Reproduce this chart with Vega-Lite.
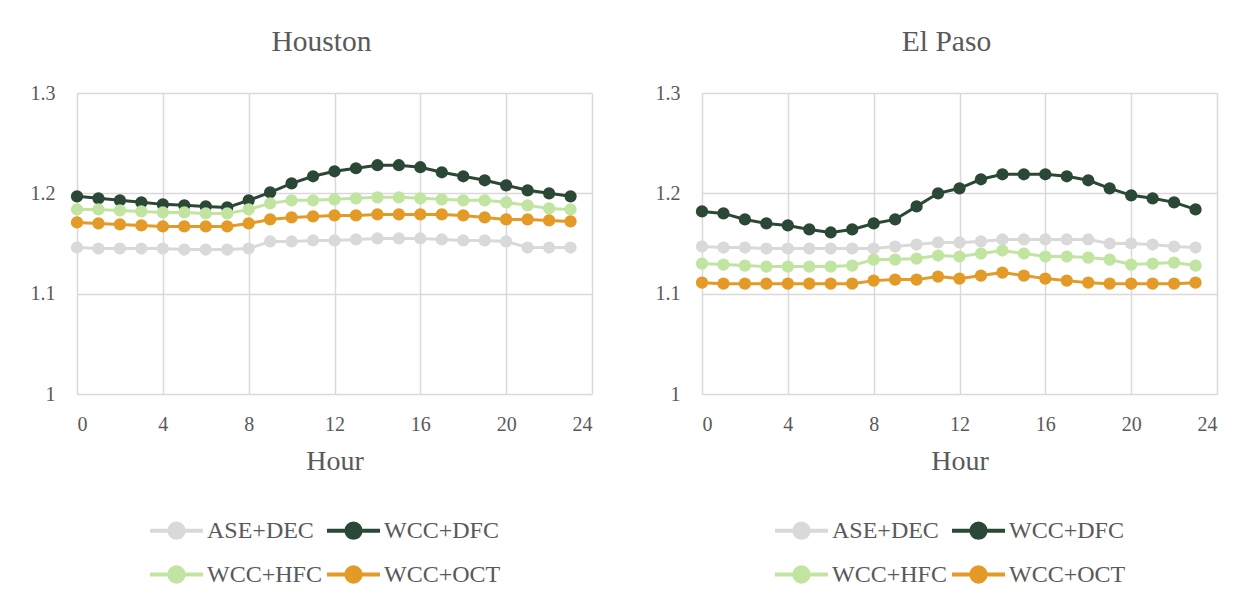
{
  "$schema": "https://vega.github.io/schema/vega-lite/v6.json",
  "background": "white",
  "padding": {"left": 30, "top": 26, "right": 5, "bottom": 0},
  "datasets": {
    "hourly": [
      {"city": "Houston", "series": "ASE+DEC", "hour": 0, "value": 1.146},
      {"city": "Houston", "series": "ASE+DEC", "hour": 1, "value": 1.145},
      {"city": "Houston", "series": "ASE+DEC", "hour": 2, "value": 1.145},
      {"city": "Houston", "series": "ASE+DEC", "hour": 3, "value": 1.145},
      {"city": "Houston", "series": "ASE+DEC", "hour": 4, "value": 1.145},
      {"city": "Houston", "series": "ASE+DEC", "hour": 5, "value": 1.144},
      {"city": "Houston", "series": "ASE+DEC", "hour": 6, "value": 1.144},
      {"city": "Houston", "series": "ASE+DEC", "hour": 7, "value": 1.144},
      {"city": "Houston", "series": "ASE+DEC", "hour": 8, "value": 1.145},
      {"city": "Houston", "series": "ASE+DEC", "hour": 9, "value": 1.152},
      {"city": "Houston", "series": "ASE+DEC", "hour": 10, "value": 1.152},
      {"city": "Houston", "series": "ASE+DEC", "hour": 11, "value": 1.153},
      {"city": "Houston", "series": "ASE+DEC", "hour": 12, "value": 1.153},
      {"city": "Houston", "series": "ASE+DEC", "hour": 13, "value": 1.154},
      {"city": "Houston", "series": "ASE+DEC", "hour": 14, "value": 1.155},
      {"city": "Houston", "series": "ASE+DEC", "hour": 15, "value": 1.155},
      {"city": "Houston", "series": "ASE+DEC", "hour": 16, "value": 1.155},
      {"city": "Houston", "series": "ASE+DEC", "hour": 17, "value": 1.154},
      {"city": "Houston", "series": "ASE+DEC", "hour": 18, "value": 1.153},
      {"city": "Houston", "series": "ASE+DEC", "hour": 19, "value": 1.153},
      {"city": "Houston", "series": "ASE+DEC", "hour": 20, "value": 1.152},
      {"city": "Houston", "series": "ASE+DEC", "hour": 21, "value": 1.146},
      {"city": "Houston", "series": "ASE+DEC", "hour": 22, "value": 1.146},
      {"city": "Houston", "series": "ASE+DEC", "hour": 23, "value": 1.146},

      {"city": "Houston", "series": "WCC+DFC", "hour": 0, "value": 1.197},
      {"city": "Houston", "series": "WCC+DFC", "hour": 1, "value": 1.195},
      {"city": "Houston", "series": "WCC+DFC", "hour": 2, "value": 1.193},
      {"city": "Houston", "series": "WCC+DFC", "hour": 3, "value": 1.191},
      {"city": "Houston", "series": "WCC+DFC", "hour": 4, "value": 1.189},
      {"city": "Houston", "series": "WCC+DFC", "hour": 5, "value": 1.188},
      {"city": "Houston", "series": "WCC+DFC", "hour": 6, "value": 1.187},
      {"city": "Houston", "series": "WCC+DFC", "hour": 7, "value": 1.186},
      {"city": "Houston", "series": "WCC+DFC", "hour": 8, "value": 1.193},
      {"city": "Houston", "series": "WCC+DFC", "hour": 9, "value": 1.201},
      {"city": "Houston", "series": "WCC+DFC", "hour": 10, "value": 1.210},
      {"city": "Houston", "series": "WCC+DFC", "hour": 11, "value": 1.217},
      {"city": "Houston", "series": "WCC+DFC", "hour": 12, "value": 1.222},
      {"city": "Houston", "series": "WCC+DFC", "hour": 13, "value": 1.225},
      {"city": "Houston", "series": "WCC+DFC", "hour": 14, "value": 1.228},
      {"city": "Houston", "series": "WCC+DFC", "hour": 15, "value": 1.228},
      {"city": "Houston", "series": "WCC+DFC", "hour": 16, "value": 1.226},
      {"city": "Houston", "series": "WCC+DFC", "hour": 17, "value": 1.221},
      {"city": "Houston", "series": "WCC+DFC", "hour": 18, "value": 1.217},
      {"city": "Houston", "series": "WCC+DFC", "hour": 19, "value": 1.213},
      {"city": "Houston", "series": "WCC+DFC", "hour": 20, "value": 1.208},
      {"city": "Houston", "series": "WCC+DFC", "hour": 21, "value": 1.203},
      {"city": "Houston", "series": "WCC+DFC", "hour": 22, "value": 1.200},
      {"city": "Houston", "series": "WCC+DFC", "hour": 23, "value": 1.197},

      {"city": "Houston", "series": "WCC+HFC", "hour": 0, "value": 1.184},
      {"city": "Houston", "series": "WCC+HFC", "hour": 1, "value": 1.184},
      {"city": "Houston", "series": "WCC+HFC", "hour": 2, "value": 1.183},
      {"city": "Houston", "series": "WCC+HFC", "hour": 3, "value": 1.182},
      {"city": "Houston", "series": "WCC+HFC", "hour": 4, "value": 1.181},
      {"city": "Houston", "series": "WCC+HFC", "hour": 5, "value": 1.181},
      {"city": "Houston", "series": "WCC+HFC", "hour": 6, "value": 1.180},
      {"city": "Houston", "series": "WCC+HFC", "hour": 7, "value": 1.180},
      {"city": "Houston", "series": "WCC+HFC", "hour": 8, "value": 1.184},
      {"city": "Houston", "series": "WCC+HFC", "hour": 9, "value": 1.190},
      {"city": "Houston", "series": "WCC+HFC", "hour": 10, "value": 1.193},
      {"city": "Houston", "series": "WCC+HFC", "hour": 11, "value": 1.193},
      {"city": "Houston", "series": "WCC+HFC", "hour": 12, "value": 1.194},
      {"city": "Houston", "series": "WCC+HFC", "hour": 13, "value": 1.195},
      {"city": "Houston", "series": "WCC+HFC", "hour": 14, "value": 1.196},
      {"city": "Houston", "series": "WCC+HFC", "hour": 15, "value": 1.196},
      {"city": "Houston", "series": "WCC+HFC", "hour": 16, "value": 1.195},
      {"city": "Houston", "series": "WCC+HFC", "hour": 17, "value": 1.194},
      {"city": "Houston", "series": "WCC+HFC", "hour": 18, "value": 1.193},
      {"city": "Houston", "series": "WCC+HFC", "hour": 19, "value": 1.193},
      {"city": "Houston", "series": "WCC+HFC", "hour": 20, "value": 1.191},
      {"city": "Houston", "series": "WCC+HFC", "hour": 21, "value": 1.188},
      {"city": "Houston", "series": "WCC+HFC", "hour": 22, "value": 1.185},
      {"city": "Houston", "series": "WCC+HFC", "hour": 23, "value": 1.184},

      {"city": "Houston", "series": "WCC+OCT", "hour": 0, "value": 1.171},
      {"city": "Houston", "series": "WCC+OCT", "hour": 1, "value": 1.170},
      {"city": "Houston", "series": "WCC+OCT", "hour": 2, "value": 1.169},
      {"city": "Houston", "series": "WCC+OCT", "hour": 3, "value": 1.168},
      {"city": "Houston", "series": "WCC+OCT", "hour": 4, "value": 1.167},
      {"city": "Houston", "series": "WCC+OCT", "hour": 5, "value": 1.167},
      {"city": "Houston", "series": "WCC+OCT", "hour": 6, "value": 1.167},
      {"city": "Houston", "series": "WCC+OCT", "hour": 7, "value": 1.167},
      {"city": "Houston", "series": "WCC+OCT", "hour": 8, "value": 1.170},
      {"city": "Houston", "series": "WCC+OCT", "hour": 9, "value": 1.174},
      {"city": "Houston", "series": "WCC+OCT", "hour": 10, "value": 1.176},
      {"city": "Houston", "series": "WCC+OCT", "hour": 11, "value": 1.177},
      {"city": "Houston", "series": "WCC+OCT", "hour": 12, "value": 1.178},
      {"city": "Houston", "series": "WCC+OCT", "hour": 13, "value": 1.178},
      {"city": "Houston", "series": "WCC+OCT", "hour": 14, "value": 1.179},
      {"city": "Houston", "series": "WCC+OCT", "hour": 15, "value": 1.179},
      {"city": "Houston", "series": "WCC+OCT", "hour": 16, "value": 1.179},
      {"city": "Houston", "series": "WCC+OCT", "hour": 17, "value": 1.179},
      {"city": "Houston", "series": "WCC+OCT", "hour": 18, "value": 1.178},
      {"city": "Houston", "series": "WCC+OCT", "hour": 19, "value": 1.176},
      {"city": "Houston", "series": "WCC+OCT", "hour": 20, "value": 1.174},
      {"city": "Houston", "series": "WCC+OCT", "hour": 21, "value": 1.174},
      {"city": "Houston", "series": "WCC+OCT", "hour": 22, "value": 1.173},
      {"city": "Houston", "series": "WCC+OCT", "hour": 23, "value": 1.172},

      {"city": "El Paso", "series": "ASE+DEC", "hour": 0, "value": 1.147},
      {"city": "El Paso", "series": "ASE+DEC", "hour": 1, "value": 1.146},
      {"city": "El Paso", "series": "ASE+DEC", "hour": 2, "value": 1.146},
      {"city": "El Paso", "series": "ASE+DEC", "hour": 3, "value": 1.145},
      {"city": "El Paso", "series": "ASE+DEC", "hour": 4, "value": 1.145},
      {"city": "El Paso", "series": "ASE+DEC", "hour": 5, "value": 1.145},
      {"city": "El Paso", "series": "ASE+DEC", "hour": 6, "value": 1.145},
      {"city": "El Paso", "series": "ASE+DEC", "hour": 7, "value": 1.145},
      {"city": "El Paso", "series": "ASE+DEC", "hour": 8, "value": 1.145},
      {"city": "El Paso", "series": "ASE+DEC", "hour": 9, "value": 1.147},
      {"city": "El Paso", "series": "ASE+DEC", "hour": 10, "value": 1.149},
      {"city": "El Paso", "series": "ASE+DEC", "hour": 11, "value": 1.151},
      {"city": "El Paso", "series": "ASE+DEC", "hour": 12, "value": 1.151},
      {"city": "El Paso", "series": "ASE+DEC", "hour": 13, "value": 1.152},
      {"city": "El Paso", "series": "ASE+DEC", "hour": 14, "value": 1.154},
      {"city": "El Paso", "series": "ASE+DEC", "hour": 15, "value": 1.154},
      {"city": "El Paso", "series": "ASE+DEC", "hour": 16, "value": 1.154},
      {"city": "El Paso", "series": "ASE+DEC", "hour": 17, "value": 1.154},
      {"city": "El Paso", "series": "ASE+DEC", "hour": 18, "value": 1.154},
      {"city": "El Paso", "series": "ASE+DEC", "hour": 19, "value": 1.150},
      {"city": "El Paso", "series": "ASE+DEC", "hour": 20, "value": 1.150},
      {"city": "El Paso", "series": "ASE+DEC", "hour": 21, "value": 1.149},
      {"city": "El Paso", "series": "ASE+DEC", "hour": 22, "value": 1.147},
      {"city": "El Paso", "series": "ASE+DEC", "hour": 23, "value": 1.146},

      {"city": "El Paso", "series": "WCC+DFC", "hour": 0, "value": 1.182},
      {"city": "El Paso", "series": "WCC+DFC", "hour": 1, "value": 1.180},
      {"city": "El Paso", "series": "WCC+DFC", "hour": 2, "value": 1.174},
      {"city": "El Paso", "series": "WCC+DFC", "hour": 3, "value": 1.170},
      {"city": "El Paso", "series": "WCC+DFC", "hour": 4, "value": 1.168},
      {"city": "El Paso", "series": "WCC+DFC", "hour": 5, "value": 1.164},
      {"city": "El Paso", "series": "WCC+DFC", "hour": 6, "value": 1.161},
      {"city": "El Paso", "series": "WCC+DFC", "hour": 7, "value": 1.164},
      {"city": "El Paso", "series": "WCC+DFC", "hour": 8, "value": 1.170},
      {"city": "El Paso", "series": "WCC+DFC", "hour": 9, "value": 1.174},
      {"city": "El Paso", "series": "WCC+DFC", "hour": 10, "value": 1.187},
      {"city": "El Paso", "series": "WCC+DFC", "hour": 11, "value": 1.200},
      {"city": "El Paso", "series": "WCC+DFC", "hour": 12, "value": 1.205},
      {"city": "El Paso", "series": "WCC+DFC", "hour": 13, "value": 1.214},
      {"city": "El Paso", "series": "WCC+DFC", "hour": 14, "value": 1.219},
      {"city": "El Paso", "series": "WCC+DFC", "hour": 15, "value": 1.219},
      {"city": "El Paso", "series": "WCC+DFC", "hour": 16, "value": 1.219},
      {"city": "El Paso", "series": "WCC+DFC", "hour": 17, "value": 1.217},
      {"city": "El Paso", "series": "WCC+DFC", "hour": 18, "value": 1.213},
      {"city": "El Paso", "series": "WCC+DFC", "hour": 19, "value": 1.205},
      {"city": "El Paso", "series": "WCC+DFC", "hour": 20, "value": 1.198},
      {"city": "El Paso", "series": "WCC+DFC", "hour": 21, "value": 1.195},
      {"city": "El Paso", "series": "WCC+DFC", "hour": 22, "value": 1.191},
      {"city": "El Paso", "series": "WCC+DFC", "hour": 23, "value": 1.184},

      {"city": "El Paso", "series": "WCC+HFC", "hour": 0, "value": 1.130},
      {"city": "El Paso", "series": "WCC+HFC", "hour": 1, "value": 1.129},
      {"city": "El Paso", "series": "WCC+HFC", "hour": 2, "value": 1.128},
      {"city": "El Paso", "series": "WCC+HFC", "hour": 3, "value": 1.127},
      {"city": "El Paso", "series": "WCC+HFC", "hour": 4, "value": 1.127},
      {"city": "El Paso", "series": "WCC+HFC", "hour": 5, "value": 1.127},
      {"city": "El Paso", "series": "WCC+HFC", "hour": 6, "value": 1.127},
      {"city": "El Paso", "series": "WCC+HFC", "hour": 7, "value": 1.128},
      {"city": "El Paso", "series": "WCC+HFC", "hour": 8, "value": 1.134},
      {"city": "El Paso", "series": "WCC+HFC", "hour": 9, "value": 1.134},
      {"city": "El Paso", "series": "WCC+HFC", "hour": 10, "value": 1.135},
      {"city": "El Paso", "series": "WCC+HFC", "hour": 11, "value": 1.138},
      {"city": "El Paso", "series": "WCC+HFC", "hour": 12, "value": 1.137},
      {"city": "El Paso", "series": "WCC+HFC", "hour": 13, "value": 1.140},
      {"city": "El Paso", "series": "WCC+HFC", "hour": 14, "value": 1.143},
      {"city": "El Paso", "series": "WCC+HFC", "hour": 15, "value": 1.140},
      {"city": "El Paso", "series": "WCC+HFC", "hour": 16, "value": 1.137},
      {"city": "El Paso", "series": "WCC+HFC", "hour": 17, "value": 1.137},
      {"city": "El Paso", "series": "WCC+HFC", "hour": 18, "value": 1.136},
      {"city": "El Paso", "series": "WCC+HFC", "hour": 19, "value": 1.134},
      {"city": "El Paso", "series": "WCC+HFC", "hour": 20, "value": 1.129},
      {"city": "El Paso", "series": "WCC+HFC", "hour": 21, "value": 1.130},
      {"city": "El Paso", "series": "WCC+HFC", "hour": 22, "value": 1.131},
      {"city": "El Paso", "series": "WCC+HFC", "hour": 23, "value": 1.128},

      {"city": "El Paso", "series": "WCC+OCT", "hour": 0, "value": 1.111},
      {"city": "El Paso", "series": "WCC+OCT", "hour": 1, "value": 1.110},
      {"city": "El Paso", "series": "WCC+OCT", "hour": 2, "value": 1.110},
      {"city": "El Paso", "series": "WCC+OCT", "hour": 3, "value": 1.110},
      {"city": "El Paso", "series": "WCC+OCT", "hour": 4, "value": 1.110},
      {"city": "El Paso", "series": "WCC+OCT", "hour": 5, "value": 1.110},
      {"city": "El Paso", "series": "WCC+OCT", "hour": 6, "value": 1.110},
      {"city": "El Paso", "series": "WCC+OCT", "hour": 7, "value": 1.110},
      {"city": "El Paso", "series": "WCC+OCT", "hour": 8, "value": 1.113},
      {"city": "El Paso", "series": "WCC+OCT", "hour": 9, "value": 1.114},
      {"city": "El Paso", "series": "WCC+OCT", "hour": 10, "value": 1.114},
      {"city": "El Paso", "series": "WCC+OCT", "hour": 11, "value": 1.117},
      {"city": "El Paso", "series": "WCC+OCT", "hour": 12, "value": 1.115},
      {"city": "El Paso", "series": "WCC+OCT", "hour": 13, "value": 1.118},
      {"city": "El Paso", "series": "WCC+OCT", "hour": 14, "value": 1.121},
      {"city": "El Paso", "series": "WCC+OCT", "hour": 15, "value": 1.118},
      {"city": "El Paso", "series": "WCC+OCT", "hour": 16, "value": 1.115},
      {"city": "El Paso", "series": "WCC+OCT", "hour": 17, "value": 1.113},
      {"city": "El Paso", "series": "WCC+OCT", "hour": 18, "value": 1.111},
      {"city": "El Paso", "series": "WCC+OCT", "hour": 19, "value": 1.110},
      {"city": "El Paso", "series": "WCC+OCT", "hour": 20, "value": 1.110},
      {"city": "El Paso", "series": "WCC+OCT", "hour": 21, "value": 1.110},
      {"city": "El Paso", "series": "WCC+OCT", "hour": 22, "value": 1.110},
      {"city": "El Paso", "series": "WCC+OCT", "hour": 23, "value": 1.111}
    ]
  },
  "data": {"name": "hourly"},
  "spacing": 63,
  "resolve": {"legend": {"color": "independent"}},
  "hconcat": [
    {
      "title": {"text": "Houston"},
      "width": 515,
      "height": 301,
      "transform": [{"filter": "datum.city === 'Houston'"}],
      "encoding": {
        "x": {"field": "hour", "type": "quantitative", "title": "Hour",
              "scale": {"domain": [0, 24], "nice": false},
              "axis": {"values": [0, 4, 8, 12, 16, 20, 24]}},
        "y": {"field": "value", "type": "quantitative", "title": null,
              "scale": {"domain": [1, 1.3], "nice": false, "zero": false},
              "axis": {"values": [1, 1.1, 1.2, 1.3], "format": ".2~f"}},
        "color": {"field": "series", "type": "nominal",
                  "scale": {"domain": ["ASE+DEC", "WCC+DFC", "WCC+HFC", "WCC+OCT"],
                            "range": ["#D9D9D9", "#2B4736", "#C1E5A1", "#E39A27"]},
                  "legend": {"orient": "none", "legendX": 71, "legendY": 409}}
      },
      "layer": [
        {"mark": {"type": "line", "strokeWidth": 3}},
        {"mark": {"type": "point", "filled": true, "size": 150, "opacity": 1}}
      ]
    },
    {
      "title": {"text": "El Paso"},
      "width": 515,
      "height": 301,
      "transform": [{"filter": "datum.city === 'El Paso'"}],
      "encoding": {
        "x": {"field": "hour", "type": "quantitative", "title": "Hour",
              "scale": {"domain": [0, 24], "nice": false},
              "axis": {"values": [0, 4, 8, 12, 16, 20, 24]}},
        "y": {"field": "value", "type": "quantitative", "title": null,
              "scale": {"domain": [1, 1.3], "nice": false, "zero": false},
              "axis": {"values": [1, 1.1, 1.2, 1.3], "format": ".2~f"}},
        "color": {"field": "series", "type": "nominal",
                  "scale": {"domain": ["ASE+DEC", "WCC+DFC", "WCC+HFC", "WCC+OCT"],
                            "range": ["#D9D9D9", "#2B4736", "#C1E5A1", "#E39A27"]},
                  "legend": {"orient": "none", "legendX": 71, "legendY": 409}}
      },
      "layer": [
        {"mark": {"type": "line", "strokeWidth": 3}},
        {"mark": {"type": "point", "filled": true, "size": 150, "opacity": 1}}
      ]
    }
  ],
  "config": {
    "font": "Liberation Serif",
    "view": {"stroke": null},
    "title": {"font": "Liberation Serif", "fontSize": 29.5, "fontWeight": "normal", "color": "#595959",
              "frame": "group", "anchor": "middle", "dx": -13, "offset": 26},
    "axis": {"labelFont": "Liberation Serif", "labelFontSize": 20, "labelColor": "#595959",
             "titleFont": "Liberation Serif", "titleFontSize": 28, "titleFontWeight": "normal", "titleColor": "#595959",
             "domain": false, "ticks": false, "grid": true, "gridColor": "#D9D9D9", "gridWidth": 1.5},
    "axisX": {"labelPadding": 20, "titlePadding": 13},
    "axisY": {"labelPadding": 22},
    "legend": {"direction": "horizontal", "columns": 2, "title": null,
               "labelFont": "Liberation Serif", "labelFontSize": 24, "labelColor": "#595959",
               "symbolType": "M-1,0L-0.3,0M0.3,0L1,0M-0.27,0A0.27,0.27,0,1,1,0.27,0A0.27,0.27,0,1,1,-0.27,0Z",
               "symbolSize": 2809, "symbolStrokeWidth": 4, "labelOffset": 2,
               "columnPadding": -3, "rowPadding": 0}
  }
}
